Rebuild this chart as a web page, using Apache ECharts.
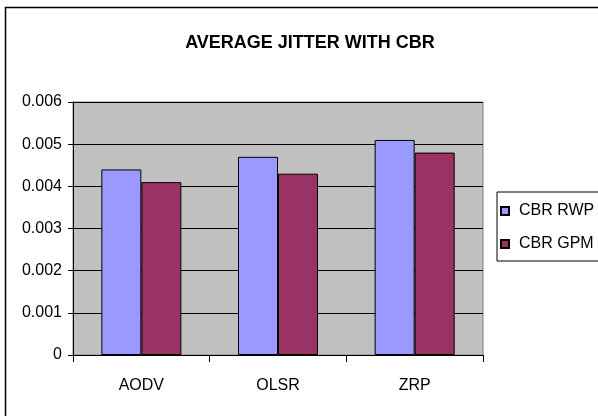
<!DOCTYPE html>
<html>
<head>
<meta charset="utf-8">
<script src="https://cdn.jsdelivr.net/npm/echarts@6/dist/echarts.min.js"></script>
<style>
  html, body { margin: 0; padding: 0; background: #fff; }
  #chart { width: 598px; height: 416px; }
</style>
</head>
<body>
<div id="chart"></div>
<script>
var categories = ['AODV', 'OLSR', 'ZRP'];
var seriesNames = ['CBR RWP', 'CBR GPM'];
var rwpValues = [0.0044, 0.0047, 0.0051];
var gpmValues = [0.0041, 0.0043, 0.0048];
var seriesColors = ['#9999ff', '#993366'];

var font = '"Liberation Sans", Arial, sans-serif';

var chart = echarts.init(document.getElementById('chart'));
var opts = {
    animation: false,
    backgroundColor: '#fff',
    title: {
        text: 'AVERAGE JITTER WITH CBR',
        left: 305,
        top: 29,
        textAlign: 'center',
        textStyle: {
            fontFamily: font,
            fontSize: 18,
            fontWeight: 'bold',
            color: '#000'
        }
    },
    legend: {
        orient: 'vertical',
        left: 497,
        top: 192,
        padding: [11, 20, 9, 3],
        itemGap: 17,
        itemWidth: 8,
        itemHeight: 8,
        icon: 'rect',
        borderColor: '#000',
        borderWidth: 1,
        backgroundColor: '#fff',
        textStyle: {
            fontFamily: font,
            fontSize: 16,
            color: '#000',
            padding: [0, 0, 0, 5]
        },
        data: seriesNames
    },
    grid: {
        left: 73,
        right: 115,
        top: 102,
        bottom: 61,
        show: true,
        backgroundColor: '#c0c0c0',
        borderColor: '#808080',
        borderWidth: 1
    },
    xAxis: {
        type: 'category',
        data: categories,
        axisLine: { lineStyle: { color: '#000', width: 1 } },
        axisTick: { show: true, length: 7, lineStyle: { color: '#000' } },
        axisLabel: {
            margin: 23,
            fontFamily: font,
            fontSize: 16,
            color: '#000'
        }
    },
    yAxis: {
        type: 'value',
        min: 0,
        max: 0.006,
        interval: 0.001,
        axisLine: { show: true, lineStyle: { color: '#000', width: 1 } },
        axisTick: { show: true, length: 5, lineStyle: { color: '#000' } },
        splitLine: { lineStyle: { color: '#000', width: 1 } },
        axisLabel: {
            margin: 11,
            fontFamily: font,
            fontSize: 16,
            color: '#000',
            formatter: function(v) { return v === 0 ? '0' : v.toFixed(3); }
        }
    },
    series: [{
        name: seriesNames[0],
        type: 'bar',
        data: rwpValues,
        barWidth: 40,
        barGap: '0%',
        itemStyle: { color: seriesColors[0], borderColor: '#000', borderWidth: 1 }
    }, {
        name: seriesNames[1],
        type: 'bar',
        data: gpmValues,
        barWidth: 40,
        itemStyle: { color: seriesColors[1], borderColor: '#000', borderWidth: 1 }
    }],
    graphic: [{
        type: 'rect',
        shape: { x: 5.5, y: 7.5, width: 620, height: 440 },
        style: { fill: null, stroke: '#000', lineWidth: 1.5 },
        silent: true,
        z: 100
    }]
};
chart.setOption(opts);
</script>
</body>
</html>
